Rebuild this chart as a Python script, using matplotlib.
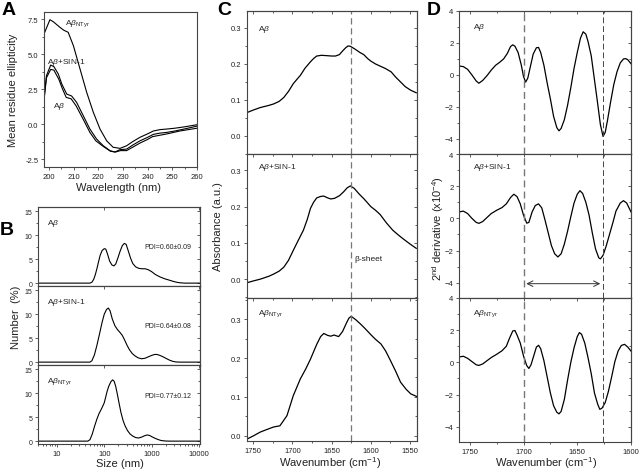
import matplotlib
matplotlib.use('Agg')
import matplotlib.pyplot as plt
from matplotlib.ticker import MultipleLocator, NullFormatter, LogLocator

plt.rcParams['font.family'] = ['Liberation Sans', 'DejaVu Sans']
plt.rcParams['mathtext.fontset'] = 'custom'
plt.rcParams['mathtext.rm'] = 'Liberation Sans'
plt.rcParams['mathtext.it'] = 'Liberation Sans:italic'
plt.rcParams['mathtext.bf'] = 'Liberation Sans:bold'

# ---- A: CD spectra (wavelength nm, mean residue ellipticity)
a_x_ntyr = [198, 200.4, 201.8, 204.5, 206, 207.8, 209.9, 212.6, 215.3, 218, 220.7, 223.4, 226, 228.8,
            231.5, 234, 236.9, 240, 242.3, 245, 247.7, 251, 255, 260]
a_y_ntyr = [6.43, 7.45, 7.3, 6.9, 6.7, 6.55, 5.6, 3.93, 2.26, 0.83, -0.36, -1.2, -1.66, -1.74,
            -1.55, -1.25, -0.95, -0.7, -0.5, -0.4, -0.36, -0.3, -0.2, -0.05]
a_x_sin = [198, 199, 200.7, 202, 203.8, 205.2, 207.2, 209.2, 211.2, 213.9, 216.6, 219.3, 222, 224.7,
           226.7, 228.8, 231.5, 234, 236.9, 240, 242.3, 245, 247.7, 251, 255, 260]
a_y_sin = [1.8, 3.45, 4.21, 4.1, 3.57, 2.86, 2.14, 2.0, 1.55, 0.6, -0.36, -1.07, -1.55, -1.9,
           -2.0, -1.83, -1.79, -1.5, -1.2, -0.95, -0.74, -0.65, -0.6, -0.5, -0.35, -0.15]
a_x_ab = [198, 199, 200.7, 202, 204, 205.5, 207, 209, 211, 214, 216.6, 219, 222, 225, 227, 229,
          231.5, 234, 237, 240, 242, 245, 248, 253, 260]
a_y_ab = [1.7, 3.3, 3.9, 3.85, 3.2, 2.5, 1.9, 1.8, 1.3, 0.3, -0.6, -1.2, -1.6, -1.95, -2.0, -1.9,
          -1.9, -1.65, -1.35, -1.1, -0.9, -0.8, -0.7, -0.5, -0.3]

# ---- B: DLS size distributions (size nm, number %)
b_x_ab = [4, 50, 55, 60, 65, 70, 76, 82, 90, 100, 108, 118, 130, 145, 160, 175, 195, 215, 240, 265,
          290, 320, 360, 400, 460, 530, 620, 730, 850, 1000, 1200, 1500, 1900, 2400, 2900, 3500,
          4200, 5000, 10500]
b_y_ab = [0, 0, 0.2, 0.8, 1.8, 3.0, 4.5, 5.8, 6.8, 7.2, 7.1, 6.0, 4.6, 3.8, 3.6, 4.0, 5.3, 6.6, 7.8,
          8.3, 8.1, 6.8, 5.2, 4.1, 3.4, 3.1, 3.0, 3.0, 2.8, 2.4, 1.8, 1.3, 0.9, 0.6, 0.35, 0.15,
          0.05, 0, 0]
b_x_sin = [4, 50, 55, 62, 70, 80, 90, 100, 112, 122, 133, 148, 168, 190, 215, 240, 270, 300, 340,
           390, 445, 520, 612, 720, 850, 1000, 1150, 1300, 1500, 1750, 2000, 2400, 2830, 3300,
           4000, 10500]
b_y_sin = [0, 0, 0.3, 1.5, 3.5, 6.0, 8.3, 10.0, 11.0, 11.3, 10.7, 9.0, 7.6, 6.8, 6.2, 5.6, 4.6, 3.6,
           2.6, 1.8, 1.3, 0.9, 0.7, 0.8, 1.1, 1.4, 1.6, 1.6, 1.4, 1.1, 0.8, 0.4, 0.15, 0.03, 0, 0]
b_x_ntyr = [4, 45, 50, 56, 62, 70, 78, 85, 92, 100, 108, 115, 125, 138, 150, 162, 175, 190, 205,
            225, 250, 275, 310, 350, 400, 460, 530, 620, 700, 800, 900, 1000, 1150, 1350, 1600,
            2000, 2400, 10500]
b_y_ntyr = [0, 0, 0.3, 1.5, 3.0, 4.6, 5.8, 6.5, 7.2, 8.0, 9.3, 10.4, 11.5, 12.4, 12.8, 12.5, 11.4,
            9.7, 8.0, 6.0, 4.3, 3.2, 2.2, 1.5, 1.05, 0.75, 0.65, 0.85, 1.1, 1.28, 1.2, 0.95, 0.65,
            0.35, 0.12, 0.02, 0, 0]
b_pdi = ['PDI=0.60±0.09', 'PDI=0.64±0.08', 'PDI=0.77±0.12']

# ---- C: FTIR absorbance (wavenumber cm-1)
c_x_ab = [1758, 1750, 1741, 1730, 1724, 1717, 1711, 1705, 1699, 1694, 1690, 1684, 1677, 1673, 1669,
          1663, 1656, 1650, 1645, 1640, 1636, 1632, 1629, 1626, 1620, 1614, 1609, 1604, 1600, 1594,
          1588, 1581, 1574, 1568, 1562, 1556, 1549, 1542]
c_y_ab = [0.065, 0.072, 0.079, 0.085, 0.089, 0.096, 0.107, 0.124, 0.145, 0.158, 0.168, 0.188, 0.206,
          0.215, 0.222, 0.224, 0.223, 0.222, 0.222, 0.226, 0.236, 0.245, 0.25, 0.249, 0.241, 0.232,
          0.226, 0.215, 0.208, 0.2, 0.194, 0.187, 0.178, 0.163, 0.15, 0.137, 0.127, 0.12]
c_x_sin = [1758, 1750, 1741, 1730, 1724, 1717, 1711, 1705, 1699, 1693, 1686, 1681, 1677, 1673, 1669,
           1664, 1660, 1655, 1651, 1646, 1640, 1635, 1630, 1626, 1621, 1615, 1609, 1604, 1600,
           1594, 1588, 1580, 1572, 1565, 1558, 1550, 1542]
c_y_sin = [-0.01, -0.005, 0.0, 0.008, 0.014, 0.022, 0.033, 0.052, 0.079, 0.105, 0.135, 0.165, 0.195,
           0.212, 0.224, 0.228, 0.229, 0.224, 0.221, 0.223, 0.23, 0.24, 0.252, 0.257, 0.25, 0.235,
           0.222, 0.21, 0.2, 0.19, 0.178, 0.155, 0.135, 0.122, 0.11, 0.097, 0.085]
c_x_ntyr = [1758, 1750, 1741, 1732, 1724, 1716, 1707, 1699, 1690, 1683, 1677, 1669, 1664, 1660, 1655,
            1651, 1647, 1641, 1636, 1631, 1628, 1625, 1619, 1613, 1607, 1600, 1594, 1587, 1581,
            1575, 1568, 1562, 1555, 1549, 1540]
c_y_ntyr = [-0.008, 0.0, 0.01, 0.017, 0.023, 0.026, 0.052, 0.103, 0.146, 0.172, 0.197, 0.235, 0.255,
            0.263, 0.258, 0.256, 0.259, 0.255, 0.268, 0.29, 0.302, 0.307, 0.298, 0.287, 0.275, 0.26,
            0.248, 0.236, 0.218, 0.194, 0.165, 0.138, 0.12, 0.108, 0.1]

# ---- D: second derivative (x10^-4)
d_x_ab = [1760, 1756, 1752, 1748, 1744, 1741.5, 1738, 1734, 1730, 1726, 1722, 1718.5, 1715, 1712,
          1710, 1708, 1705, 1702, 1700, 1698, 1696, 1694, 1691, 1688, 1686, 1684, 1681, 1678, 1675,
          1672, 1669, 1667, 1665, 1662, 1659, 1656, 1653, 1650, 1647, 1644.5, 1642, 1640, 1637,
          1634, 1631, 1628.5, 1626, 1624, 1622, 1619, 1616, 1613, 1610, 1607, 1605, 1603, 1600]
d_y_ab = [0.56, 0.52, 0.35, 0.0, -0.38, -0.52, -0.35, -0.05, 0.3, 0.6, 0.8, 1.0, 1.35, 1.78, 1.88,
          1.8, 1.4, 0.6, -0.1, -0.45, -0.2, 0.4, 1.3, 1.7, 1.72, 1.4, 0.6, -0.5, -1.5, -2.6, -3.3,
          -3.5, -3.35, -2.8, -1.9, -0.8, 0.4, 1.4, 2.3, 2.7, 2.55, 2.1, 1.2, -0.3, -1.8, -3.1, -3.85,
          -3.6, -2.9, -1.7, -0.6, 0.2, 0.75, 1.0, 1.02, 0.95, 0.7]
d_x_sin = [1760, 1756, 1752, 1748, 1744, 1741.5, 1738, 1734, 1730, 1725, 1720, 1716, 1712, 1709,
           1706, 1703, 1700, 1697, 1695, 1692, 1689, 1686, 1683, 1680, 1677, 1674, 1671, 1668, 1665,
           1662, 1659, 1656, 1653, 1650, 1647.5, 1645, 1642, 1639, 1636, 1633, 1630, 1628.5, 1626,
           1623, 1620, 1617, 1614, 1610, 1607, 1604, 1600]
d_y_sin = [0.4, 0.45, 0.3, 0.0, -0.25, -0.31, -0.2, 0.05, 0.3, 0.5, 0.67, 0.9, 1.3, 1.5, 1.35, 0.9,
           0.2, -0.3, -0.25, 0.4, 0.8, 0.9, 0.65, -0.1, -0.9, -1.7, -2.2, -2.4, -2.2, -1.6, -0.8, 0.1,
           0.95, 1.5, 1.72, 1.55, 1.0, 0.2, -0.9, -1.9, -2.45, -2.52, -2.3, -1.7, -1.0, -0.3, 0.45,
           0.95, 1.1, 0.95, 0.4]
d_x_ntyr = [1760, 1756, 1752, 1748, 1744, 1741.5, 1738, 1734, 1730, 1725, 1720, 1716, 1713, 1710,
            1708, 1706, 1703, 1700, 1697, 1695, 1693, 1690.5, 1688, 1686, 1684, 1681, 1678, 1675,
            1672, 1669, 1667, 1665, 1662, 1659, 1656, 1653, 1650, 1648, 1646, 1643, 1640, 1637,
            1634, 1631, 1629, 1627, 1624, 1621, 1618, 1615, 1612, 1609, 1606, 1603, 1600]
d_y_ntyr = [0.33, 0.38, 0.25, 0.05, -0.15, -0.19, -0.1, 0.1, 0.3, 0.5, 0.72, 1.0, 1.5, 1.95, 1.98,
            1.7, 1.2, 0.4, -0.2, -0.38, -0.15, 0.4, 0.95, 1.06, 0.85, 0.1, -0.9, -1.9, -2.7, -3.1,
            -3.2, -3.05, -2.3, -1.1, 0.0, 0.9, 1.6, 1.85, 1.75, 1.2, 0.3, -0.7, -1.9, -2.6, -2.92,
            -2.85, -2.5, -1.8, -0.9, 0.05, 0.7, 1.05, 1.12, 0.95, 0.7]

lab_ab = r'A$\beta$'
lab_sin = r'A$\beta$+SIN-1'
lab_ntyr = r'A$\beta_{\mathrm{NTyr}}$'

W, H = 640, 477
fig = plt.figure(figsize=(W / 100, H / 100), dpi=100)
SP = '#444444'
TXT = '#222222'


def box(l, r, t, b):
    return [l / W, 1 - b / H, (r - l) / W, (b - t) / H]


def style(ax, xmaj=None, xmin=None, ymaj=None, ymin=None, mirror=True, xlabels=True, lsize=5.5):
    for s in ax.spines.values():
        s.set_color(SP)
        s.set_linewidth(0.8)
    ax.tick_params(which='both', direction='out', labelsize=lsize, colors=SP, labelcolor=TXT, pad=1.5,
                   width=0.6)
    ax.tick_params(which='major', length=2.5)
    ax.tick_params(which='minor', length=1.5)
    if xmaj:
        ax.xaxis.set_major_locator(MultipleLocator(xmaj))
        ax.xaxis.set_minor_locator(MultipleLocator(xmin))
    if ymaj:
        ax.yaxis.set_major_locator(MultipleLocator(ymaj))
        ax.yaxis.set_minor_locator(MultipleLocator(ymin))
    if not xlabels:
        ax.tick_params(axis='x', labelbottom=False)
    if mirror:
        sy = ax.secondary_yaxis('right')
        sy.yaxis.set_major_locator(MultipleLocator(ymaj))
        sy.yaxis.set_minor_locator(MultipleLocator(ymin))
        sy.yaxis.set_major_formatter(NullFormatter())
        sy.tick_params(which='both', direction='in', colors=SP, width=0.6)
        sy.tick_params(which='major', length=2.5)
        sy.tick_params(which='minor', length=1.5)
        sy.spines['right'].set_color(SP)
        sy.spines['right'].set_linewidth(0.8)
        sx = ax.secondary_xaxis('top')
        if xmaj:
            sx.xaxis.set_major_locator(MultipleLocator(xmaj))
            sx.xaxis.set_minor_locator(MultipleLocator(xmin))
        else:
            sx.xaxis.set_major_locator(LogLocator(base=10))
            sx.xaxis.set_minor_locator(LogLocator(base=10, subs=range(2, 10)))
        sx.xaxis.set_major_formatter(NullFormatter())
        sx.xaxis.set_minor_formatter(NullFormatter())
        sx.tick_params(which='both', direction='in', colors=SP, width=0.6)
        sx.tick_params(which='major', length=2.5)
        sx.tick_params(which='minor', length=1.5)
        sx.spines['top'].set_color(SP)
        sx.spines['top'].set_linewidth(0.8)


# ---------------- panel A
ax = fig.add_axes(box(44, 197, 13, 168))
ax.plot(a_x_ntyr, a_y_ntyr, color='k', lw=0.8)
ax.plot(a_x_sin, a_y_sin, color='k', lw=0.8)
ax.plot(a_x_ab, a_y_ab, color='k', lw=0.8)
ax.set_xlim(198, 260)
ax.set_ylim(-3.07, 8.0)
style(ax, 10, 5, 2.5, 1.25, mirror=False)
ax.yaxis.set_major_formatter(matplotlib.ticker.FormatStrFormatter('%.1f'))
ax.text(206.5, 7.25, lab_ntyr, fontsize=6, color=TXT, va='center')
ax.text(199.2, 4.5, lab_sin, fontsize=6, color=TXT, va='center')
ax.text(201.8, 1.35, lab_ab, fontsize=6, color=TXT, va='center')
fig.text(119 / W, 1 - 188 / H, 'Wavelength (nm)', fontsize=8, color=TXT, ha='center', va='center')
fig.text(13 / W, 1 - 90 / H, 'Mean residue ellipticity', fontsize=8, color=TXT, ha='center',
         va='center', rotation=90)

# ---------------- panel B
b_series = [(b_x_ab, b_y_ab, lab_ab), (b_x_sin, b_y_sin, lab_sin), (b_x_ntyr, b_y_ntyr, lab_ntyr)]
b_tops = [208, 287, 366, 445]
b_pdi_y = [0.5, 0.506, 0.61]
for i, (xs, ys, lab) in enumerate(b_series):
    ax = fig.add_axes(box(38, 200, b_tops[i], b_tops[i + 1]))
    ax.plot(xs, ys, color='k', lw=0.8)
    ax.set_xscale('log')
    ax.set_xlim(4, 10500)
    ax.set_ylim(-0.6, 15.9)
    style(ax, None, None, 5, 2.5, xlabels=(i == 2), lsize=5)
    ax.xaxis.set_minor_locator(LogLocator(base=10, subs=range(2, 10)))
    ax.xaxis.set_minor_formatter(NullFormatter())
    ax.xaxis.set_major_formatter(matplotlib.ticker.FuncFormatter(lambda v, p: '%d' % v))
    ax.tick_params(axis='x', labelsize=5.5)
    ax.text(0.055, 0.8, lab, transform=ax.transAxes, fontsize=6, color=TXT, va='center')
    ax.text(0.944, b_pdi_y[i], b_pdi[i], transform=ax.transAxes, fontsize=5, color=TXT,
            ha='right', va='center')
fig.text(120 / W, 1 - 464 / H, 'Size (nm)', fontsize=8, color=TXT, ha='center', va='center')
fig.text(16 / W, 1 - 317 / H, 'Number  (%)', fontsize=8, color=TXT, ha='center', va='center',
         rotation=90)

# ---------------- panel C
c_series = [(c_x_ab, c_y_ab, lab_ab, (-0.05, 0.347), 0.88),
            (c_x_sin, c_y_sin, lab_sin, (-0.052, 0.345), 0.91),
            (c_x_ntyr, c_y_ntyr, lab_ntyr, (-0.013, 0.354), 0.9)]
c_tops = [12, 155, 299, 442]
for i, (xs, ys, lab, yl, ty) in enumerate(c_series):
    ax = fig.add_axes(box(247, 417, c_tops[i], c_tops[i + 1]))
    ax.plot(xs, ys, color='k', lw=0.9)
    ax.axvline(1625, color='#777777', lw=0.9, ls=(0, (5, 3)))
    ax.set_xlim(1758, 1541)
    ax.set_ylim(*yl)
    style(ax, 50, 25, 0.1, 0.05, xlabels=(i == 2))
    ax.text(0.065, ty, lab, transform=ax.transAxes, fontsize=6, color=TXT, va='center')
    if i == 1:
        ax.text(1621, 0.057, 'β-sheet', fontsize=6, color=TXT, va='center')
fig.text(330 / W, 1 - 463 / H, r'Wavenumber (cm$^{-1}$)', fontsize=8, color=TXT, ha='center',
         va='center')
fig.text(218 / W, 1 - 227 / H, 'Absorbance (a.u.)', fontsize=8, color=TXT, ha='center', va='center',
         rotation=90)

# ---------------- panel D
d_series = [(d_x_ab, d_y_ab, lab_ab, 0.89), (d_x_sin, d_y_sin, lab_sin, 0.91),
            (d_x_ntyr, d_y_ntyr, lab_ntyr, 0.9)]
d_tops = [12, 155, 299, 443]
for i, (xs, ys, lab, ty) in enumerate(d_series):
    ax = fig.add_axes(box(459, 631, d_tops[i], d_tops[i + 1]))
    ax.plot(xs, ys, color='k', lw=0.9)
    ax.axvline(1700, color='#777777', lw=1.0, ls=(0, (5, 3)))
    ax.axvline(1626, color='#444444', lw=0.7, ls=(0, (6, 3)))
    ax.set_xlim(1760, 1600)
    ax.set_ylim(-4.95, 4)
    style(ax, 50, 25, 2, 1, xlabels=(i == 2))
    ax.text(0.08, ty, lab, transform=ax.transAxes, fontsize=6, color=TXT, va='center')
    if i == 1:
        ax.annotate('', xy=(1626, -4.06), xytext=(1700, -4.06),
                    arrowprops=dict(arrowstyle='<->', color='#333333', lw=0.7))
fig.text(546 / W, 1 - 463 / H, r'Wavenumber (cm$^{-1}$)', fontsize=8, color=TXT, ha='center',
         va='center')
fig.text(438 / W, 1 - 228 / H, r'2$^{\mathrm{nd}}$ derivative (x10$^{-4}$)', fontsize=8, color=TXT,
         ha='center', va='center', rotation=90)

# panel letters
for letter, x, y in [('A', 2, 2), ('B', 0, 222), ('C', 217, 2), ('D', 427, 2)]:
    fig.text(x / W, 1 - y / H, letter, fontsize=14, fontweight='bold', ha='left', va='top')

fig.savefig('out.png', dpi=100)
